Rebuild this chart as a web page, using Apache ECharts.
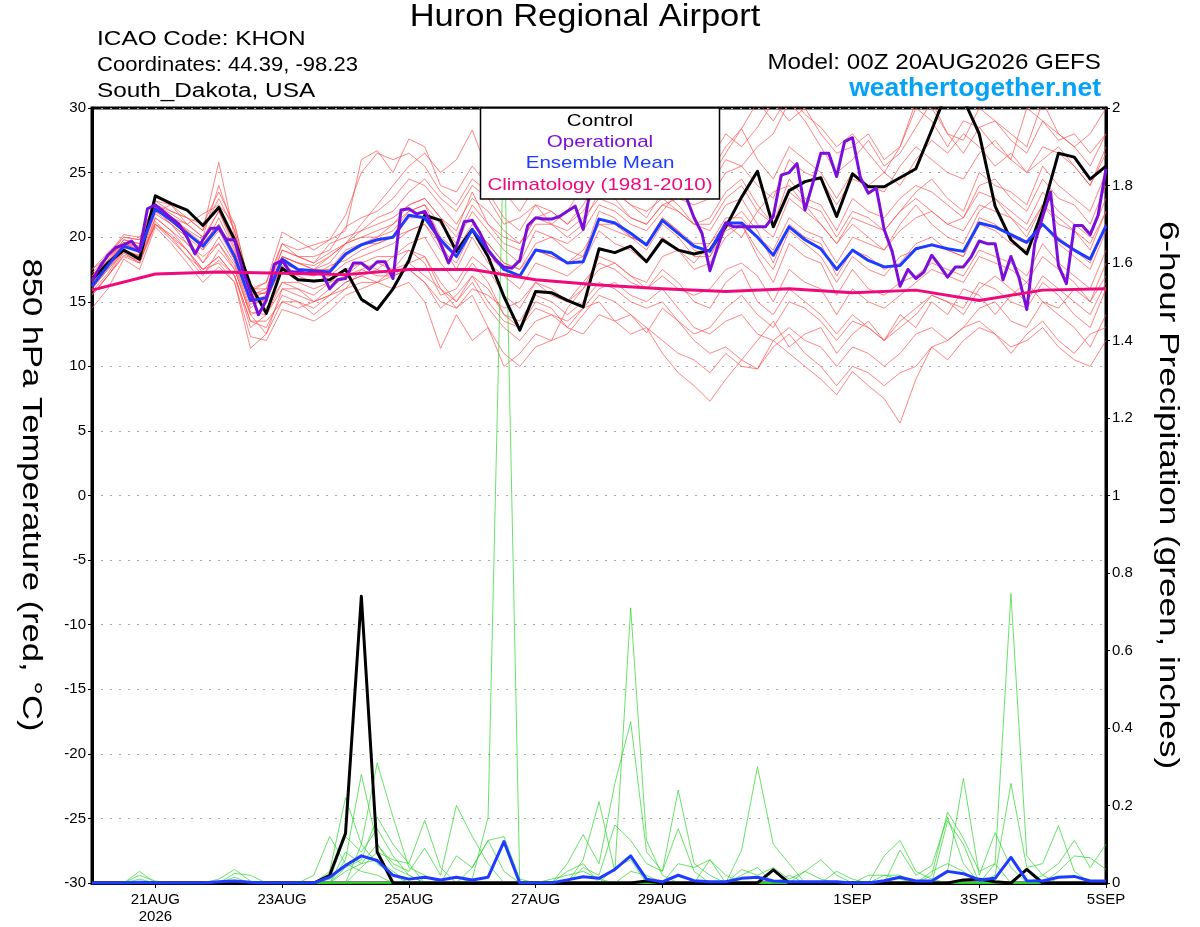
<!DOCTYPE html>
<html>
<head>
<meta charset="utf-8">
<title>Huron Regional Airport - GEFS</title>
<script src="https://cdn.jsdelivr.net/npm/echarts@6/dist/echarts.min.js"></script>
<style>
  html, body { margin: 0; padding: 0; background: #fff; }
  #chart { width: 1200px; height: 927px; }
</style>
</head>
<body>
<div id="chart"></div>
<script>
// x axis: hours after 00Z 20AUG2026
const tickHours = [24, 72, 120, 168, 216, 288, 336, 384];
const tickLabels = ["21AUG\n2026", "23AUG", "25AUG", "27AUG", "29AUG", "1SEP", "3SEP", "5SEP"];

// 850 hPa temperature, 6-hourly (65 values)
const controlTemp = [16.7,18.0,19.0,18.3,23.2,22.6,22.1,20.9,22.3,19.8,16.3,14.1,17.6,
  16.7,16.6,16.7,17.5,15.2,14.4,16.0,18.2,21.7,21.3,18.9,20.6,18.5,
  15.4,12.8,15.8,15.7,15.1,14.6,19.1,18.8,19.3,18.1,19.8,19.0,18.7,
  19.0,20.8,23.1,25.1,20.8,23.6,24.3,24.6,21.6,24.9,23.9,23.9,24.6,
  25.3,28.3,31.4,30.7,28.0,22.4,19.8,18.7,22.1,26.5,26.2,24.5,25.5];
const meanTemp = [16.2,17.8,19.3,18.9,22.2,21.3,20.3,19.3,20.8,18.5,15.1,15.3,18.3,
  17.5,17.4,17.3,18.7,19.4,19.8,20.0,21.7,21.5,19.8,18.5,20.6,19.0,
  17.5,17.0,19.0,18.8,18.0,18.1,21.4,21.1,20.3,19.4,21.3,20.3,19.3,
  18.9,21.1,21.1,20.0,18.6,20.8,19.8,19.1,17.5,19.0,18.2,17.7,17.8,
  19.1,19.4,19.1,18.9,21.1,20.8,20.2,19.6,21.0,19.8,19.0,18.3,20.9];
// operational run, 3-hourly (129 values)
const operTemp = [16.6,17.7,18.6,19.2,19.4,19.7,18.9,22.2,22.5,22.0,21.5,21.0,20.0,18.7,19.8,20.7,20.7,19.8,19.8,17.5,
  15.8,14.0,15.1,17.9,18.2,17.3,17.3,17.2,17.3,17.3,16.0,16.7,16.8,18.0,18.0,17.5,18.1,18.1,16.8,22.1,
  22.2,21.8,22.0,20.9,19.5,18.0,19.3,21.2,21.3,20.3,19.0,18.2,17.7,17.6,18.2,20.9,21.5,21.4,21.4,21.6,
  22.0,22.4,20.6,24.0,24.5,25.0,25.5,24.8,25.2,26.0,25.5,24.8,25.5,24.5,24.0,23.1,21.5,20.3,17.4,19.3,
  21.1,20.8,20.8,20.8,20.8,20.8,21.6,24.8,25.0,25.7,22.1,24.2,26.5,26.5,24.7,27.4,27.7,24.6,23.4,23.8,
  20.6,18.9,16.2,17.5,16.8,17.3,18.6,17.8,16.9,17.7,17.7,18.5,19.7,19.5,19.5,16.7,18.5,16.9,14.4,19.5,
  21.6,23.5,17.8,16.4,20.9,20.9,20.2,21.7,25.3];
// climatology (1981-2010), daily (17 values)
const climTemp = [15.9,17.15,17.3,17.2,17.1,17.5,17.5,16.7,16.3,16.0,15.8,16.0,15.7,15.9,15.1,15.9,16.0];

// ensemble members, 6-hourly
const tMem01 = [17.0,18.2,19.8,19.5,22.5,21.8,21.0,20.0,24.0,20.5,15.8,15.6,19.0,
  18.5,18.0,18.8,19.5,21.0,22.5,24.0,25.5,26.5,25.0,26.0,28.3,25.0,
  23.5,22.0,24.0,25.5,24.5,26.0,27.0,25.0,26.5,24.5,26.5,27.5,26.0,
  25.0,27.0,28.4,30.5,29.0,31.0,29.5,28.5,27.0,28.0,26.5,25.0,24.0,
  26.0,27.5,26.5,28.0,27.0,25.5,26.5,25.0,26.0,27.0,25.5,24.0,26.5];
const tMem02 = [15.5,17.0,18.8,18.0,21.5,20.5,19.0,17.5,18.5,17.0,13.5,13.0,15.5,
  15.0,14.5,15.5,16.5,17.0,16.5,17.5,18.0,17.0,16.0,15.0,16.5,14.5,
  13.0,12.0,13.5,14.0,13.0,14.5,15.0,13.5,14.0,13.0,12.0,11.0,10.5,
  9.5,11.0,10.0,9.8,12.0,11.0,10.0,9.0,7.8,9.6,8.5,7.5,5.6,
  9.0,11.5,10.5,12.0,13.0,12.5,11.0,12.5,13.5,12.0,11.0,12.5,13.0];
const tMem03 = [16.0,17.5,19.0,18.5,21.0,20.0,18.5,17.0,19.0,17.5,14.0,12.5,16.0,
  16.0,15.5,16.5,17.0,18.0,17.5,18.5,19.0,18.0,15.5,16.0,18.0,16.5,
  14.0,13.0,15.0,14.5,13.0,12.5,14.0,13.5,12.5,13.0,11.0,9.5,8.5,
  7.3,9.0,10.5,12.0,13.5,11.5,12.5,13.0,11.0,12.5,13.5,12.0,14.0,
  13.0,15.0,14.0,16.0,15.5,14.0,15.5,16.5,15.0,14.5,16.0,15.0,17.0];
const tMem04 = [17.5,18.5,20.0,19.8,22.8,22.0,21.5,21.0,23.5,21.0,16.0,16.5,20.4,
  19.7,19.0,19.8,20.5,26.0,26.7,25.0,27.6,27.0,24.0,23.5,25.5,24.0,
  24.0,26.5,27.5,25.0,26.0,27.5,25.5,26.5,27.0,25.0,26.0,25.5,27.0,
  26.0,28.0,27.0,28.5,30.5,29.0,30.0,28.0,26.5,27.0,28.0,26.0,27.0,
  30.0,29.0,27.0,29.0,28.5,27.0,26.0,30.0,29.0,27.5,28.0,26.5,28.0];
const tMem05 = [16.5,18.0,19.5,19.0,22.0,21.5,20.5,19.5,21.0,18.5,15.0,15.0,18.0,
  17.5,17.0,17.5,19.0,19.5,20.0,20.5,22.0,22.5,20.0,19.0,21.0,19.5,
  18.0,17.5,19.5,20.0,19.0,18.5,22.0,21.5,20.0,19.5,21.5,20.5,19.0,
  18.5,21.0,22.0,20.5,18.0,21.0,20.0,19.5,17.0,19.0,18.5,17.5,18.0,
  19.5,20.0,19.0,18.5,21.5,21.0,20.0,19.5,21.0,20.0,19.0,18.0,21.0];
const tMem06 = [14.5,16.0,18.3,17.5,20.8,19.5,18.0,16.5,17.7,16.5,12.3,12.0,14.4,
  14.0,13.5,14.3,15.5,16.0,16.5,16.0,16.5,15.0,11.4,14.0,12.0,13.0,
  10.0,11.0,12.5,12.0,14.5,16.0,17.5,18.0,17.0,16.5,18.5,19.0,18.0,
  19.5,21.0,20.0,22.0,23.5,24.0,22.5,21.0,19.5,21.0,20.0,19.0,21.0,
  22.5,21.0,20.0,19.5,22.0,23.0,21.5,20.0,22.5,21.0,20.5,19.0,22.0];
const tMem07 = [17.0,18.5,19.5,19.2,22.3,21.0,20.0,18.0,20.0,18.0,14.5,15.5,17.5,
  17.0,16.5,17.0,18.0,18.5,19.0,19.5,20.5,21.0,19.5,17.5,20.0,18.0,
  17.0,16.0,18.0,17.5,17.0,18.0,20.5,19.5,19.0,18.0,20.0,19.0,17.5,
  18.0,20.0,21.0,18.5,16.5,19.5,18.5,18.0,15.5,17.5,16.0,15.5,16.5,
  17.0,18.0,17.5,17.0,19.0,18.5,18.0,17.0,19.5,18.0,17.0,16.0,19.0];
const tMem08 = [16.8,18.0,19.5,19.0,22.5,22.0,21.5,20.5,25.8,20.0,15.5,16.0,19.5,
  18.5,18.5,19.0,20.8,21.5,22.0,23.0,24.5,24.0,22.5,21.0,23.0,22.0,
  20.5,19.5,21.5,22.0,21.0,22.5,24.5,23.5,22.5,21.5,23.5,22.5,21.0,
  21.5,23.5,24.5,22.5,21.0,24.5,23.0,22.5,20.5,23.0,22.0,21.5,23.0,
  24.0,23.5,22.5,21.5,24.0,24.5,23.0,22.0,24.5,23.0,22.5,21.0,24.0];
const tMem09 = [15.8,17.2,19.0,18.5,21.5,20.5,19.5,18.5,19.5,17.5,14.0,14.5,16.5,
  16.5,16.0,16.5,17.5,18.0,18.5,18.5,19.5,20.0,18.0,16.5,18.5,17.5,
  15.5,14.5,16.5,16.0,15.0,16.0,18.5,18.0,17.0,16.0,17.5,16.5,15.0,
  14.5,16.5,17.5,15.0,14.0,16.0,15.0,14.0,12.5,14.0,13.0,12.0,13.0,
  14.0,15.5,15.0,14.0,16.0,17.0,16.0,15.0,17.0,16.0,15.0,14.0,16.5];
const tMem10 = [17.2,18.6,20.2,20.0,22.0,22.5,21.0,21.8,22.5,21.0,16.0,16.0,19.0,
  18.5,18.0,19.5,20.0,20.5,21.5,22.0,23.5,24.5,23.0,22.0,24.0,23.0,
  21.0,21.5,22.5,21.0,22.0,24.0,25.0,23.0,24.0,24.5,25.5,26.0,24.5,
  24.0,26.0,25.5,27.0,28.0,30.5,29.0,27.0,25.0,26.0,27.5,25.5,26.5,
  28.5,30.5,28.0,27.5,30.0,29.0,28.0,27.0,30.5,28.0,27.0,28.0,30.0];
const tMem11 = [16.0,17.5,18.8,18.0,21.2,20.0,19.0,17.5,18.5,17.0,13.0,14.0,16.0,
  15.5,15.0,15.5,16.5,17.0,17.5,17.0,18.0,18.5,16.5,15.0,17.0,15.0,
  13.5,13.0,14.5,14.0,13.5,14.5,16.0,16.5,15.5,15.0,16.0,14.5,13.0,
  12.5,13.5,14.0,12.5,12.0,13.0,12.0,11.5,10.0,11.5,11.0,10.0,11.0,
  12.5,13.0,12.0,13.0,14.5,15.0,13.5,13.0,15.0,14.0,13.0,11.5,14.0];
const tMem12 = [16.5,18.0,19.8,19.5,22.0,21.5,21.0,20.0,22.0,19.5,15.5,15.0,18.5,
  18.0,17.5,18.0,19.5,20.5,21.0,21.5,22.5,23.0,21.5,20.0,22.5,21.0,
  19.5,19.0,21.0,21.0,20.0,21.0,23.5,23.0,21.5,21.0,22.5,22.0,21.0,
  20.5,22.5,23.0,21.0,20.0,23.0,22.0,21.0,19.5,21.5,21.0,20.5,22.0,
  23.5,24.5,23.0,22.0,25.0,24.0,23.5,22.5,25.5,24.0,23.0,22.0,25.0];
const tMem13 = [15.5,17.0,18.5,18.0,21.0,19.8,18.5,17.5,18.0,16.5,11.4,12.5,15.0,
  14.5,15.0,15.5,16.0,17.5,17.0,17.0,17.5,16.5,15.0,14.5,16.0,15.5,
  14.5,15.0,16.5,15.5,15.0,16.5,18.0,17.5,16.5,16.0,17.0,16.0,15.5,
  16.0,17.5,18.0,17.0,15.0,17.5,16.5,16.0,14.0,16.0,15.0,14.5,15.5,
  16.5,17.5,17.0,16.5,18.5,18.0,17.5,16.5,18.5,17.5,16.5,15.0,18.0];
const tMem14 = [17.0,18.4,19.6,19.2,22.5,21.5,20.5,19.0,21.5,19.0,15.0,15.5,18.5,
  18.0,17.5,18.5,19.5,20.0,20.0,21.0,22.0,22.5,21.0,19.5,22.0,20.5,
  19.0,18.0,20.5,20.0,19.5,20.5,22.5,22.0,21.0,20.5,22.0,23.5,23.0,
  24.5,26.5,28.4,26.0,24.5,27.0,26.0,25.0,23.0,25.0,24.0,23.5,25.5,
  27.0,26.0,25.0,24.5,26.5,27.5,26.0,25.0,27.0,26.5,25.5,24.0,27.0];
const tMem15 = [16.2,17.6,19.0,18.6,21.8,21.0,19.5,18.0,19.5,17.8,14.2,14.0,16.5,
  16.0,15.0,16.0,17.0,17.5,18.0,17.5,19.0,18.5,16.0,14.5,15.5,13.0,
  11.0,10.0,11.5,12.0,12.5,14.0,15.5,15.0,14.0,12.6,14.5,13.5,12.5,
  13.0,14.5,15.5,14.0,13.0,15.0,14.5,13.5,12.0,13.5,13.0,12.0,13.5,
  14.5,15.5,15.0,14.5,16.5,16.0,15.0,14.5,16.5,15.5,14.0,13.0,16.0];
const tMem16 = [16.8,18.2,19.2,19.0,22.2,21.2,20.2,19.5,21.0,18.8,15.2,15.8,18.0,
  17.5,17.5,17.5,18.5,19.5,19.5,20.0,21.5,21.5,19.5,18.5,20.5,19.5,
  18.0,17.5,19.0,18.5,18.0,19.0,21.0,20.5,20.0,19.5,21.5,20.5,19.5,
  19.5,21.5,21.5,20.0,19.0,21.5,20.5,20.0,18.0,20.0,19.5,19.0,20.5,
  21.5,22.0,21.0,21.5,23.5,23.0,22.0,21.0,23.5,22.0,21.0,20.0,23.0];
const tMem17 = [17.5,18.8,20.0,19.8,22.8,22.5,21.5,20.5,23.0,20.5,15.8,16.5,19.5,
  19.0,19.4,19.8,21.7,25.0,26.5,26.0,26.5,25.5,23.5,22.5,24.5,23.5,
  21.5,20.5,22.5,22.0,21.0,22.0,24.0,23.5,22.5,22.0,23.0,22.0,21.0,
  21.0,23.0,24.0,22.0,21.0,23.5,22.5,22.0,20.0,22.0,21.5,20.5,22.0,
  23.0,22.0,21.0,20.5,22.5,22.0,21.5,20.5,22.5,21.5,20.5,19.5,22.0];
const tMem18 = [15.6,17.0,18.6,18.2,21.0,20.2,19.0,17.2,18.2,17.0,13.5,13.5,15.0,
  15.0,14.0,15.0,16.0,16.5,16.5,17.0,17.5,16.5,14.5,15.5,17.0,16.0,
  14.0,13.5,15.5,15.0,14.0,15.0,16.5,16.0,15.0,14.5,15.0,13.5,12.0,
  11.0,11.5,10.5,9.8,11.5,12.5,11.0,10.0,8.5,10.0,9.5,8.5,9.5,
  10.0,11.5,12.0,13.0,13.5,12.5,11.5,12.0,13.0,11.5,10.5,10.0,12.0];
const tMem19 = [16.4,17.8,19.4,18.8,22.0,21.0,20.0,19.0,20.5,18.2,14.8,15.2,17.8,
  17.2,17.0,17.8,18.2,19.0,19.5,20.0,20.5,21.0,19.0,18.0,20.5,18.5,
  17.5,17.0,19.0,18.5,18.0,18.5,21.0,21.0,20.0,19.0,21.0,20.0,18.5,
  18.5,20.5,21.0,19.0,17.5,20.5,19.5,18.5,16.5,18.5,17.5,17.0,18.5,
  19.0,19.5,19.0,18.5,21.0,20.5,19.5,19.0,21.0,19.5,18.5,17.5,20.5];
const tMem20 = [16.6,18.0,19.6,19.3,22.4,21.5,20.6,19.8,22.0,19.2,15.5,15.7,18.5,
  18.0,17.8,18.5,19.5,20.0,20.5,21.0,22.5,23.0,21.5,20.5,23.5,21.0,
  20.0,19.5,21.5,21.0,20.5,21.5,23.0,22.5,21.5,21.0,22.5,23.0,22.5,
  23.0,25.0,25.5,24.0,23.0,26.0,25.0,24.5,22.5,24.5,24.0,25.0,27.0,
  30.5,30.0,28.0,26.5,28.5,29.0,27.5,26.5,29.0,28.0,27.0,25.5,28.0];

// 6-hour precipitation (inches), 6-hourly
const controlPrecip = [0,0,0,0,0,0,0,0,0,0,0,0,0,
  0,0,0.02,0.128,0.74,0.08,0,0,0,0,0,0,0,
  0,0,0,0,0,0,0,0,0,0.005,0,0,0,
  0,0,0,0,0.034,0,0,0,0,0,0,0,0,
  0,0,0,0.008,0.01,0.003,0,0.035,0,0,0,0,0];
const meanPrecip = [0,0,0,0.002,0,0,0,0,0.003,0.005,0.002,0,0,
  0,0,0.015,0.045,0.07,0.058,0.02,0.01,0.015,0.008,0.015,0.008,0.015,
  0.107,0,0,0,0.008,0.016,0.012,0.035,0.07,0.01,0.003,0.02,0.006,
  0.003,0.003,0.012,0.015,0.005,0.003,0.003,0.003,0.003,0,0,0.006,0.015,
  0.005,0.005,0.03,0.024,0.008,0.012,0.066,0.006,0.005,0.015,0.017,0.005,0.005];
const pMem01 = [0,0,0,0.03,0,0,0,0,0,0,0,0,0, 0,0,0,0,0,0,0,0,0,0,0,0,0,
  0,0,0,0,0,0,0,0,0,0,0,0,0, 0,0,0.085,0.3,0.1,0.05,0,0,0,0,0,0,0, 0,0,0,0,0,0,0,0,0,0,0,0,0];
const pMem02 = [0,0,0,0.02,0.005,0,0,0,0,0,0,0,0, 0,0,0,0,0,0,0,0,0,0,0,0,0,
  0,0,0,0,0,0,0,0,0,0,0,0,0, 0,0,0.035,0.02,0.04,0.01,0.03,0.06,0.02,0,0,0,0, 0,0,0,0,0,0,0,0,0,0,0,0,0];
const pMem03 = [0,0,0,0.01,0,0,0,0,0,0,0,0,0, 0,0,0,0,0,0,0,0,0,0,0,0,0,
  0,0,0,0,0,0,0,0,0,0,0,0,0, 0,0,0,0,0,0,0,0,0,0,0,0.07,0.11, 0.03,0.01,0,0,0,0,0,0,0,0,0,0,0];
const pMem04 = [0,0,0,0,0,0,0,0,0.01,0.035,0.005,0,0, 0,0,0,0,0,0,0,0,0,0,0,0,0,
  0,0,0,0,0,0,0,0,0,0,0,0,0, 0,0,0,0,0,0,0,0,0,0,0,0,0.085, 0.02,0.045,0.17,0.05,0,0,0,0,0,0,0,0,0];
const pMem05 = [0,0,0,0,0,0,0,0,0,0.025,0.02,0,0, 0,0,0,0,0,0,0,0,0,0,0,0,0,
  0,0,0,0,0,0,0,0,0,0,0,0,0, 0,0,0,0,0,0,0,0,0,0,0,0,0, 0,0.02,0.183,0.115,0.03,0.05,0,0,0,0,0,0,0];
const pMem06 = [0,0,0,0,0,0,0,0,0,0.015,0,0,0, 0,0,0,0,0,0,0,0,0,0,0,0,0,
  0,0,0,0,0,0,0,0,0,0,0,0,0, 0,0,0,0,0,0,0,0,0,0,0,0,0, 0,0,0.03,0.27,0.02,0.13,0.04,0,0,0,0,0,0];
const pMem07 = [0,0,0,0,0,0,0,0,0,0,0,0,0, 0,0.02,0.12,0.05,0.03,0.02,0,0,0,0,0,0,0,
  0,0,0,0,0,0,0,0,0,0,0,0,0, 0,0,0,0,0,0,0,0,0,0,0,0,0, 0,0,0,0,0,0.05,0.747,0.07,0.02,0,0,0,0];
const pMem08 = [0,0,0,0,0,0,0,0,0,0,0,0,0, 0,0,0.03,0.22,0.1,0.05,0.02,0,0,0,0,0,0,
  0,0,0,0,0,0,0,0,0,0,0,0,0, 0,0,0,0,0,0,0,0,0,0,0,0,0, 0,0,0,0,0,0.02,0.257,0.04,0.05,0.148,0.03,0,0];
const pMem09 = [0,0,0,0,0,0,0,0,0,0,0,0,0, 0,0,0,0.06,0.28,0.1,0.04,0.02,0,0,0,0,0,
  0,0,0,0,0,0,0,0,0,0,0,0,0, 0,0,0,0,0,0,0,0,0,0,0,0,0, 0,0,0,0,0,0,0,0,0.02,0.05,0.11,0.04,0.1];
const pMem10 = [0,0,0,0,0,0,0,0,0,0,0,0,0, 0,0,0,0,0.1,0.31,0.17,0.04,0.02,0,0,0,0,
  0,0,0,0,0,0,0,0,0,0,0,0,0, 0,0,0,0,0,0,0,0,0,0,0,0,0, 0,0,0,0,0,0,0,0,0,0.03,0.07,0.065,0.035];
const pMem11 = [0,0,0,0,0,0,0,0,0,0,0,0,0, 0,0,0,0.04,0.06,0.17,0.1,0.05,0.162,0.04,0,0,0,
  0,0,0,0,0,0,0,0,0,0,0,0,0, 0,0,0,0,0,0,0,0,0,0,0.02,0.02,0.01, 0,0,0,0,0,0,0,0,0,0,0,0,0];
const pMem12 = [0,0,0,0,0,0,0,0,0,0,0,0,0, 0,0,0,0.08,0.05,0.1,0.05,0.03,0.09,0.02,0.2,0.12,0.05,
  0,0,0,0,0,0,0,0,0,0,0,0,0, 0,0,0,0,0,0,0.03,0.01,0,0,0,0,0, 0,0,0,0,0,0,0,0,0,0,0,0,0];
const pMem13 = [0,0,0,0,0,0,0,0,0,0,0,0,0, 0,0,0,0,0.04,0.08,0.06,0.05,0,0,0.07,0.04,0.11,
  0.03,0,0,0,0,0,0,0,0,0,0,0,0, 0,0,0,0,0,0,0,0,0.03,0.01,0,0,0, 0,0,0,0,0,0,0,0,0,0,0,0,0];
const pMem14 = [0,0,0,0,0,0,0,0,0,0,0,0,0, 0,0,0.01,0.12,0.08,0.14,0.07,0.02,0,0,0,0.01,0.17,
  1.97,0,0,0,0,0,0,0,0,0,0,0,0, 0,0,0,0,0,0,0,0,0,0,0,0,0, 0,0,0,0,0,0,0,0,0,0,0,0,0];
const pMem15 = [0,0,0,0,0,0,0,0,0,0,0,0,0, 0,0,0,0.03,0.05,0.06,0.03,0,0,0,0,0.04,0.11,
  0.12,0.01,0,0,0,0,0,0,0,0,0,0,0, 0,0,0,0,0,0,0,0,0,0,0,0,0, 0,0,0,0,0,0,0,0,0,0,0,0,0];
const pMem16 = [0,0,0,0,0,0,0,0,0,0,0,0,0, 0,0,0,0,0,0,0,0,0,0,0,0,0,
  0,0,0,0,0,0.06,0.21,0.03,0.71,0.11,0.02,0,0, 0.06,0,0,0,0,0,0,0,0,0,0,0,0, 0,0,0,0,0,0,0,0,0,0,0,0,0];
const pMem17 = [0,0,0,0,0,0,0,0,0,0,0,0,0, 0,0,0,0,0,0,0,0,0,0,0,0,0,
  0,0,0,0,0.05,0.125,0.05,0.257,0.416,0.08,0.03,0.14,0.03, 0,0,0,0,0,0,0,0,0,0,0,0,0, 0,0,0,0,0,0,0,0,0,0,0,0,0];
const pMem18 = [0,0,0,0,0,0,0,0,0,0,0,0,0, 0,0,0,0,0,0,0,0,0,0,0,0,0,
  0,0,0,0,0,0.04,0.02,0.15,0.11,0.05,0.03,0.24,0.05, 0.02,0,0,0,0,0,0,0,0,0,0,0.02,0.02, 0,0,0,0,0,0,0,0,0,0,0,0,0];
const pMem19 = [0,0,0,0,0,0,0,0,0,0,0,0,0, 0,0,0,0,0,0,0,0,0,0,0,0,0,
  0,0,0,0,0.03,0.05,0,0.04,0.06,0,0,0.05,0.04, 0.06,0.02,0,0,0,0,0,0,0,0,0,0,0, 0,0,0.16,0.1,0,0,0,0,0,0,0,0,0];
const pMem20 = [0,0,0,0,0,0,0,0,0,0,0,0,0, 0,0,0,0,0,0,0,0,0,0,0,0,0,
  0,0,0,0.01,0.02,0.03,0.01,0,0.03,0.02,0,0,0, 0,0,0.02,0.04,0,0.02,0,0,0,0,0,0,0, 0,0.03,0.05,0.03,0,0,0,0,0,0,0,0,0];

const tempMembers = [tMem01,tMem02,tMem03,tMem04,tMem05,tMem06,tMem07,tMem08,tMem09,tMem10,
  tMem11,tMem12,tMem13,tMem14,tMem15,tMem16,tMem17,tMem18,tMem19,tMem20];
const precipMembers = [pMem01,pMem02,pMem03,pMem04,pMem05,pMem06,pMem07,pMem08,pMem09,pMem10,
  pMem11,pMem12,pMem13,pMem14,pMem15,pMem16,pMem17,pMem18,pMem19,pMem20];

const FONT = '"Liberation Sans", Arial, sans-serif';
const RED = '#ff4a4a', GREEN = '#2fd52f', PURPLE = '#7b0fd9', BLUE = '#1e3cff', PINK = '#ee0a7c';

const toPairs = (arr, step) => arr.map((v, i) => [i * step, v]);

function line(name, arr, step, color, width, axis, z, opacity) {
  return {
    name: name, type: 'line', yAxisIndex: axis, data: toPairs(arr, step),
    symbol: 'none', z: z, silent: true, clip: true,
    lineStyle: { color: color, width: width, opacity: opacity == null ? 1 : opacity, join: 'round' }
  };
}

// text helper: the reference lettering is a bit wider than Liberation Sans, so stretch it
function label(text, x, y, size, align, fill, sx, extra) {
  return Object.assign({
    type: 'text', x: x, y: y, z: 101, scaleX: sx || 1,
    style: { text: text, font: size + 'px ' + FONT, fill: fill || '#000', textAlign: align, textVerticalAlign: 'middle' }
  }, extra || {});
}

const series = [];
tempMembers.forEach((m, k) => series.push(line('t' + k, m, 6, RED, 0.8, 0, 2, 0.85)));
precipMembers.forEach((m, k) => series.push(line('p' + k, m, 6, GREEN, 0.8, 1, 2, 0.9)));
series.push(line('Control', controlTemp, 6, '#000', 3, 0, 4));
series.push(line('Control precip', controlPrecip, 6, '#000', 3, 1, 4));
series.push(line('Ensemble Mean', meanTemp, 6, BLUE, 3, 0, 5));
series.push(line('Mean precip', meanPrecip, 6, BLUE, 3, 1, 5));
series.push(line('Operational', operTemp, 3, PURPLE, 3, 0, 6));
series.push(line('Climatology', climTemp, 24, PINK, 3, 0, 7));

const chart = echarts.init(document.getElementById('chart'));

const option = {
  animation: false,
  backgroundColor: '#fff',
  grid: { left: 92, right: 94, top: 108, bottom: 44, show: true, borderColor: '#000', borderWidth: 3 },
  xAxis: {
    type: 'value', min: 0, max: 384,
    axisLine: { show: true, onZero: false, lineStyle: { color: '#000', width: 3 } },
    axisTick: { show: true, customValues: tickHours, length: 5, lineStyle: { color: '#000', width: 1 } },
    axisLabel: {
      customValues: tickHours, color: '#000', fontSize: 15, fontFamily: FONT, margin: 8, lineHeight: 17,
      formatter: v => tickLabels[tickHours.indexOf(v)] || ''
    },
    splitLine: { show: false }
  },
  yAxis: [
    {
      type: 'value', min: -30, max: 30, interval: 5, position: 'left',
      axisLine: { show: true, lineStyle: { color: '#000', width: 3 } },
      axisTick: { show: true, length: 4, lineStyle: { color: '#000', width: 1 } },
      axisLabel: { color: '#000', fontSize: 15, fontFamily: FONT, margin: 6 },
      splitLine: { show: true, lineStyle: { color: '#aaa', width: 1, type: [2, 7] } }
    },
    {
      type: 'value', min: 0, max: 2, interval: 0.2, position: 'right',
      axisLine: { show: true, lineStyle: { color: '#000', width: 3 } },
      axisTick: { show: true, length: 4, lineStyle: { color: '#000', width: 1 } },
      axisLabel: { color: '#000', fontSize: 15, fontFamily: FONT, margin: 6 },
      splitLine: { show: false }
    }
  ],
  graphic: [
    label('Huron Regional Airport', 585, 18, 30.5, 'center', '#000', 1.13),
    label('ICAO Code: KHON', 97, 40, 19.5, 'left', '#000', 1.25),
    label('Coordinates: 44.39, -98.23', 97, 66, 19.5, 'left', '#000', 1.13),
    label('South_Dakota, USA', 97, 92, 19.5, 'left', '#000', 1.25),
    label('Model: 00Z 20AUG2026 GEFS', 1101, 63, 22, 'right', '#000', 1.1),
    label('weathertogether.net', 1101, 89, 'bold 26.5', 'right', '#05a2f5', 1),
    label('850 hPa Temperature (red, °C)', 30, 495, 27, 'center', '#000', 1.28, { rotation: -Math.PI / 2 }),
    label('6-hour Precipitation (green, inches)', 1167, 495, 27, 'center', '#000', 1.3, { rotation: -Math.PI / 2 }),
    { type: 'rect', z: 100, shape: { x: 480.5, y: 108, width: 239, height: 91 }, style: { fill: '#fff', stroke: '#000', lineWidth: 1.5 } },
    label('Control', 600, 121, 17, 'center', '#000', 1.21),
    label('Operational', 600, 142, 17, 'center', PURPLE, 1.21),
    label('Ensemble Mean', 600, 163, 17, 'center', BLUE, 1.21),
    label('Climatology (1981-2010)', 600, 185, 17, 'center', PINK, 1.21)
  ],
  series: series
};

chart.setOption(option);
</script>
</body>
</html>
